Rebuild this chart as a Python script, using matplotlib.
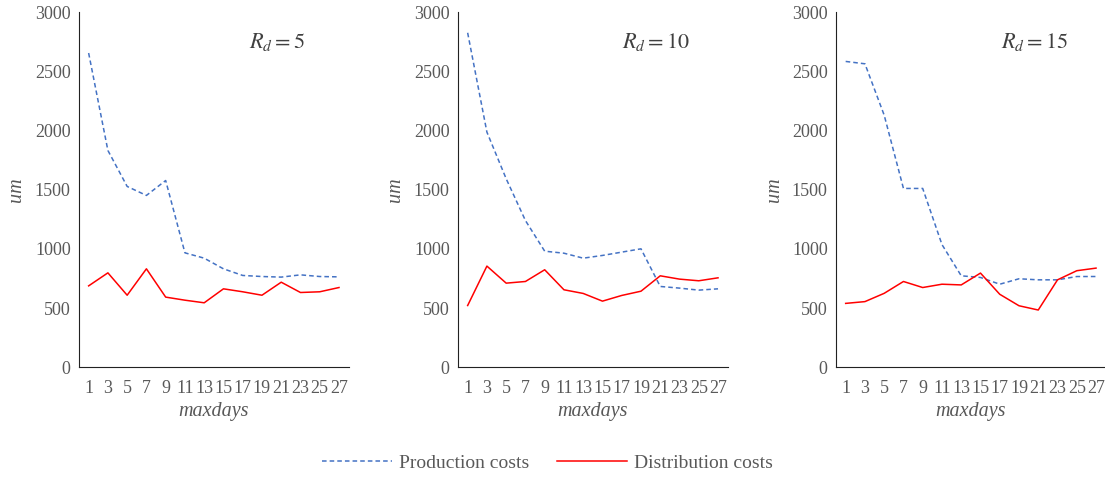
import matplotlib.pyplot as plt
import numpy as np

# maxdays values on the category axis
maxdays = [1, 3, 5, 7, 9, 11, 13, 15, 17, 19, 21, 23, 25, 27]

# Rd = 5
prod_5 = [2654, 1831, 1527, 1451, 1577, 966, 921, 831, 775, 766, 761, 780, 766, 763]
dist_5 = [687, 797, 608, 831, 592, 566, 544, 662, 637, 608, 718, 631, 637, 673]

# Rd = 10
prod_10 = [2825, 1986, 1592, 1239, 980, 963, 921, 944, 972, 1000, 682, 668, 651, 662]
dist_10 = [521, 854, 710, 724, 823, 654, 623, 558, 606, 642, 772, 744, 730, 755]

# Rd = 15
prod_15 = [2583, 2563, 2129, 1510, 1510, 1036, 772, 758, 701, 747, 738, 738, 766, 766]
dist_15 = [539, 554, 624, 724, 673, 701, 695, 795, 616, 519, 483, 738, 815, 837]

rd_vals = [5, 10, 15]
prod_all = [prod_5, prod_10, prod_15]
dist_all = [dist_5, dist_10, dist_15]

plt.rcParams['font.family'] = 'Liberation Serif'
plt.rcParams['mathtext.fontset'] = 'stix'

cinza = '#595959'
azul = '#4472C4'
vermelho = '#FF0000'

fig = plt.figure(figsize=(11.05, 5.03), dpi=100)
lefts = [0.0715, 0.4145, 0.7566]
width = 0.244
bottom = 0.270
height = 0.706

for i in range(3):
    ax = fig.add_axes([lefts[i], bottom, width, height])
    l1, = ax.plot(maxdays, prod_all[i], color=azul, linestyle=(0, (3, 2)), linewidth=1.1,
                  label='Production costs')
    l2, = ax.plot(maxdays, dist_all[i], color=vermelho, linestyle='-', linewidth=1.1,
                  label='Distribution costs')
    ax.set_xlim(0, 28)
    ax.set_ylim(0, 3000)
    ax.set_xticks(maxdays)
    ax.set_xticklabels([str(d) for d in maxdays])
    ax.set_yticks(np.arange(0, 3001, 500))
    ax.tick_params(axis='both', length=0, labelsize=13, colors=cinza, pad=6)
    ax.tick_params(axis='x', pad=9)
    for lado in ['top', 'right']:
        ax.spines[lado].set_visible(False)
    ax.spines['left'].set_color('#222222')
    ax.spines['bottom'].set_color('#222222')
    ax.set_xlabel('maxdays', fontsize=14.5, style='italic', color=cinza, labelpad=4)
    ax.set_ylabel('um', fontsize=14.5, style='italic', color=cinza, labelpad=6)
    ax.text(0.735, 0.915, r'$R_d = %d$' % rd_vals[i], transform=ax.transAxes,
            ha='center', va='center', fontsize=16, color='#404040')

fig.legend([l1, l2], ['Production costs', 'Distribution costs'], loc='center',
           bbox_to_anchor=(0.4955, 0.08), ncol=2, frameon=False, fontsize=14,
           handlelength=3.6, handletextpad=0.35, columnspacing=1.45, labelcolor=cinza)

plt.savefig('out.png', dpi=100)
